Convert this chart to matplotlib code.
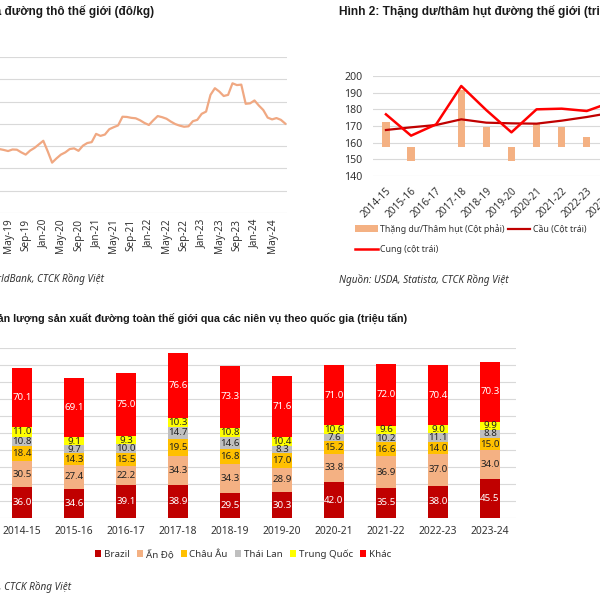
import matplotlib
matplotlib.use('Agg')
import matplotlib.pyplot as plt
import numpy as np
import pandas as pd
from matplotlib.patches import Patch

plt.rcParams['font.family'] = ['Noto Sans', 'DejaVu Sans']

# ---------------- data ----------------
# Figure 1: world raw sugar price (USD/kg), monthly from Mar-2019 to Aug-2024
price_start = '2019-03'
price_values = [0.287, 0.283, 0.278, 0.285, 0.284, 0.272, 0.262, 0.280, 0.292, 0.308,
                0.324, 0.277, 0.226, 0.245, 0.262, 0.272, 0.287, 0.290, 0.279, 0.302,
                0.314, 0.318, 0.355, 0.346, 0.352, 0.376, 0.385, 0.393, 0.432, 0.431,
                0.427, 0.425, 0.416, 0.404, 0.395, 0.416, 0.435, 0.430, 0.423, 0.410,
                0.399, 0.392, 0.387, 0.389, 0.412, 0.418, 0.445, 0.455, 0.530, 0.560,
                0.545, 0.525, 0.530, 0.582, 0.574, 0.576, 0.490, 0.492, 0.505, 0.482,
                0.462, 0.428, 0.420, 0.426, 0.418, 0.401]

# Figure 2: surplus/deficit (right axis) and demand/supply (left axis)
seasons = ['2014-15', '2015-16', '2016-17', '2017-18', '2018-19',
           '2019-20', '2020-21', '2021-22', '2022-23', '2023-24']
surplus = [8.9, -4.9, 0.2, 20.2, 7.1, -4.6, 8.2, 7.1, 3.5, 5.6]
demand = [167.6, 169.2, 170.6, 174.0, 172.0, 171.6, 171.4, 173.2, 175.4, 178.0]
supply = [177.0, 164.2, 171.0, 194.0, 179.5, 166.2, 180.0, 180.4, 179.0, 184.4]

# Figure 3: production by country (million tonnes)
countries = ['Brazil', 'Ấn Độ', 'Châu Âu', 'Thái Lan', 'Trung Quốc', 'Khác']
prod = {
    'Brazil':     [36.0, 34.6, 39.1, 38.9, 29.5, 30.3, 42.0, 35.5, 38.0, 45.5],
    'Ấn Độ':      [30.5, 27.4, 22.2, 34.3, 34.3, 28.9, 33.8, 36.9, 37.0, 34.0],
    'Châu Âu':    [18.4, 14.3, 15.5, 19.5, 16.8, 17.0, 15.2, 16.6, 14.0, 15.0],
    'Thái Lan':   [10.8, 9.7, 10.0, 14.7, 14.6, 8.3, 7.6, 10.2, 11.1, 8.8],
    'Trung Quốc': [11.0, 9.1, 9.3, 10.3, 10.8, 10.4, 10.6, 9.6, 9.0, 9.9],
    'Khác':       [70.1, 69.1, 75.0, 76.6, 73.3, 71.6, 71.0, 72.0, 70.4, 70.3],
}
colors3 = {'Brazil': '#C00000', 'Ấn Độ': '#F4B183', 'Châu Âu': '#FFC000',
           'Thái Lan': '#BFBFBF', 'Trung Quốc': '#FFFF00', 'Khác': '#FF0000'}
label_white = {'Brazil', 'Khác'}

# ---------------- layout helpers ----------------
W = H = 600
fig = plt.figure(figsize=(6, 6), dpi=100)
fig.patch.set_facecolor('white')


def rect(x0, y0, x1, y1):
    return [x0 / W, 1 - y1 / H, (x1 - x0) / W, (y1 - y0) / H]


def fx(px):
    return px / W


def fy(py):
    return 1 - py / H


GRID = '#D9D9D9'
TXT = '#333333'
TITLE_FONT = dict(family=['Liberation Sans', 'DejaVu Sans'], fontweight='bold',
                  color='#1a1a1a')

# ---------------- Figure 1 ----------------
months = pd.period_range(price_start, periods=len(price_values), freq='M')
xm = np.arange(len(months))
ax1 = fig.add_axes(rect(-27.1, 57, 286.6, 213))
ax1.plot(xm, price_values, color='#F0A882', lw=1.6, solid_joinstyle='round')
ax1.set_xlim(-6, 65.3)
ax1.set_ylim(0, 0.7)
ax1.set_yticks(np.arange(0, 0.71, 0.1))
ax1.set_yticklabels([])
ax1.grid(axis='y', color=GRID, lw=0.8)
ax1.set_axisbelow(True)
tick_idx = xm[2::4]
ax1.set_xticks(tick_idx)
ax1.set_xticklabels([months[i].strftime('%b-%y') for i in tick_idx], rotation=90)
ax1.tick_params(length=0, pad=4, labelsize=7.2, labelcolor=TXT)
for s in ax1.spines.values():
    s.set_visible(False)

fig.text(fx(154), fy(11), 'Hình 1: Giá đường thô thế giới (đô/kg)', ha='right',
         va='center', fontsize=8.5, **TITLE_FONT)
fig.text(fx(104), fy(279), 'Nguồn: WorldBank, CTCK Rồng Việt', ha='right',
         va='center', fontsize=7.2, style='italic', color=TXT)

# ---------------- Figure 2 ----------------
ax2 = fig.add_axes(rect(373.4, 76, 624.4, 176))
ax2.set_ylim(140, 200)
ax2.set_xlim(-0.5, len(seasons) - 0.5)
L0, L1, R0, R1 = 140, 200, -10, 25   # left-axis range and (cropped) right-axis range


def r2l(v):
    return L0 + (np.asarray(v) - R0) * (L1 - L0) / (R1 - R0)


x2 = np.arange(len(seasons))
base = r2l(0)
ax2.bar(x2, r2l(surplus) - base, bottom=base, width=0.29, color='#F4B183', zorder=2)
l_cau, = ax2.plot(x2, demand, color='#C00000', lw=1.6, zorder=3)
l_cung, = ax2.plot(x2, supply, color='#FF0000', lw=1.8, zorder=4)
ax2.set_yticks(np.arange(140, 201, 10))
ax2.grid(axis='y', color=GRID, lw=0.8)
ax2.set_axisbelow(True)
ax2.set_xticks(x2)
ax2.set_xticklabels(seasons, rotation=45, ha='right', rotation_mode='anchor')
ax2.tick_params(axis='x', length=0, pad=7, labelsize=7.2, labelcolor=TXT)
ax2.tick_params(axis='y', length=0, pad=8, labelsize=7.6, labelcolor=TXT)
for s in ax2.spines.values():
    s.set_visible(False)

bar_h = Patch(facecolor='#F4B183', edgecolor='none')
handles = [bar_h, l_cung, l_cau]
labels = ['Thặng dư/Thâm hụt (Cột phải)', 'Cung (cột trái)', 'Cầu (Cột trái)']
fig.legend(handles, labels, ncol=2, loc='upper left',
           bbox_to_anchor=(fx(355), fy(224)), frameon=False, fontsize=6.3,
           handlelength=2.6, handleheight=0.8, handletextpad=0.3,
           columnspacing=0.3, labelspacing=1.25, borderaxespad=0, borderpad=0,
           labelcolor=TXT)

fig.text(fx(339), fy(11), 'Hình 2: Thặng dư/thâm hụt đường thế giới (triệu tấn)',
         ha='left', va='center', fontsize=8.6, **TITLE_FONT)
fig.text(fx(339), fy(280), 'Nguồn: USDA, Statista, CTCK Rồng Việt', ha='left',
         va='center', fontsize=7.2, style='italic', color=TXT)

# ---------------- Figure 3 ----------------
ax3 = fig.add_axes(rect(-4, 348, 516, 518))
x3 = np.arange(len(seasons))
bottom = np.zeros(len(seasons))
for c in countries:
    vals = np.array(prod[c])
    bars = ax3.bar(x3, vals, bottom=bottom, width=0.39, color=colors3[c],
                   label=c, zorder=2)
    ax3.bar_label(bars, labels=[f'{v:.1f}' for v in vals], label_type='center',
                  fontsize=7, color='white' if c in label_white else '#222222')
    bottom += vals
ax3.set_xlim(-0.5, len(seasons) - 0.5)
ax3.set_ylim(0, 200)
ax3.set_yticks(np.arange(0, 201, 20))
ax3.set_yticklabels([])
ax3.grid(axis='y', color=GRID, lw=0.8)
ax3.set_axisbelow(True)
ax3.set_xticks(x3)
ax3.set_xticklabels(seasons)
ax3.tick_params(axis='x', length=0, pad=6, labelsize=7.4, labelcolor=TXT)
ax3.tick_params(axis='y', length=0)
for s in ax3.spines.values():
    s.set_visible(False)

h3 = [Patch(facecolor=colors3[c], edgecolor='none') for c in countries]
fig.legend(h3, countries, ncol=6, loc='center', bbox_to_anchor=(fx(243), fy(554)),
           frameon=False, fontsize=7.0, handlelength=0.6, handleheight=0.6,
           handletextpad=0.3, columnspacing=0.75, labelcolor=TXT)

fig.text(fx(407), fy(319),
         'Hình 3: Sản lượng sản xuất đường toàn thế giới qua các niên vụ theo quốc gia (triệu tấn)',
         ha='right', va='center', fontsize=7.76, **TITLE_FONT)
fig.text(fx(71), fy(587), 'Nguồn: USDA, CTCK Rồng Việt', ha='right', va='center',
         fontsize=7.2, style='italic', color=TXT)

fig.savefig('out.png', dpi=100, facecolor='white')
